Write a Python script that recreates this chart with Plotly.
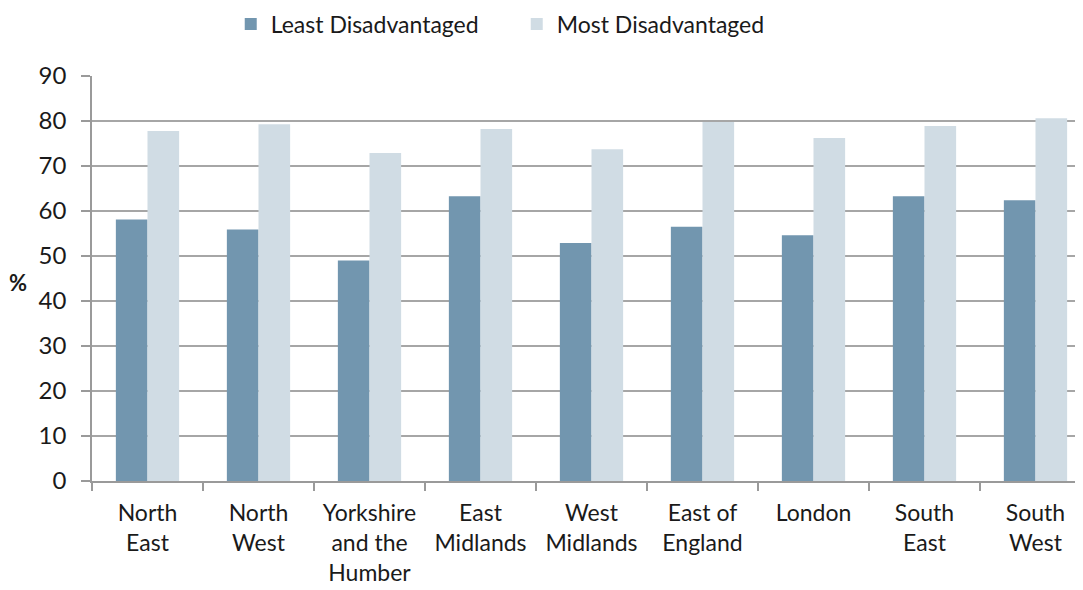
import plotly.graph_objects as go

categories = ["North<br>East", "North<br>West", "Yorkshire<br>and the<br>Humber", "East<br>Midlands",
              "West<br>Midlands", "East of<br>England", "London", "South<br>East", "South<br>West"]
least_disadvantaged = [58.1, 55.9, 49.0, 63.3, 52.9, 56.5, 54.6, 63.3, 62.4]
most_disadvantaged = [77.8, 79.3, 72.9, 78.2, 73.7, 79.8, 76.2, 78.9, 80.6]
y_ticks = [0, 10, 20, 30, 40, 50, 60, 70, 80, 90]

FONT = "Lato, 'Open Sans', sans-serif"
fig = go.Figure()
fig.add_trace(go.Bar(x=categories, y=least_disadvantaged, name="Least Disadvantaged",
                     marker=dict(color="#7296AF", line=dict(width=0))))
fig.add_trace(go.Bar(x=categories, y=most_disadvantaged, name="Most Disadvantaged",
                     marker=dict(color="#D0DCE4", line=dict(width=0))))

# page body has an 8px default margin, so the figure is 8px smaller and margins are offset
fig.update_layout(
    width=1075, height=582,
    margin=dict(l=84, r=0, t=68, b=109, autoexpand=False),
    paper_bgcolor="white", plot_bgcolor="white",
    font=dict(family=FONT, size=24, color="#1a1a1a"),
    barmode="group", bargap=0.43, bargroupgap=0,
    legend=dict(orientation="h", x=0.14, xanchor="left", y=1.128, yanchor="middle",
                font=dict(size=23), itemwidth=30,
                traceorder="normal", entrywidth=241),
    showlegend=True,
)
fig.update_xaxes(
    type="category", range=[-0.5, 8.428], automargin=False,
    showline=True, linecolor="#9a9a9a", linewidth=1.5,
    ticks="outside", tickson="boundaries", ticklen=8, tickcolor="#9a9a9a", tickwidth=1.5,
    showgrid=False, ticklabelstandoff=11, tickfont=dict(size=23),
)
fig.update_yaxes(
    range=[0, 90], tickvals=y_ticks, automargin=False,
    showline=True, linecolor="#9a9a9a", linewidth=1.5,
    ticks="outside", ticklen=9, tickcolor="#9a9a9a", tickwidth=1.5,
    showgrid=True, gridcolor="#a6a6a6", gridwidth=1.5, zeroline=False,
    ticklabelstandoff=10,
)
fig.add_annotation(text="<b>%</b>", xref="paper", yref="paper", x=-0.0747, y=0.491,
                   xanchor="center", yanchor="middle", showarrow=False,
                   font=dict(size=22, family=FONT))
fig.write_html("out.html")
